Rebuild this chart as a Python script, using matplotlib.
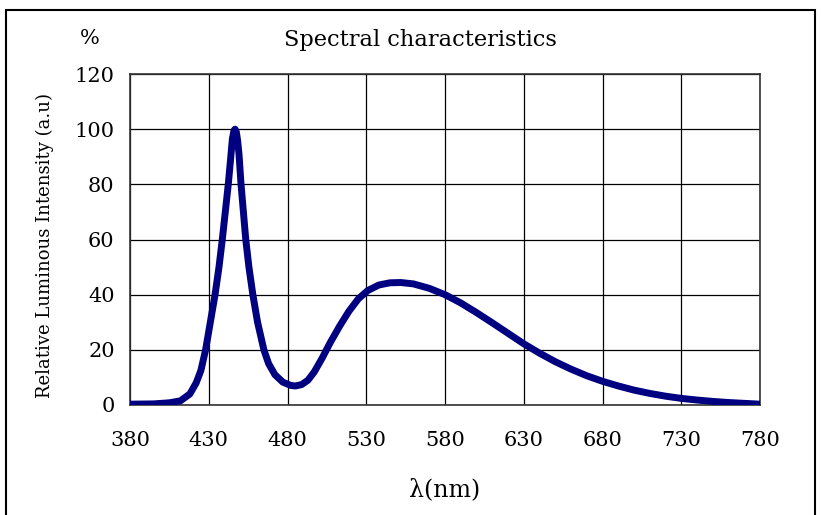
import matplotlib
matplotlib.use("Agg")
import matplotlib.pyplot as plt
from matplotlib.patches import Rectangle

wavelength = [380, 395, 405, 412, 418, 422, 425, 428, 431, 434, 436.5, 438.6, 440.5, 442.4,
              444, 445, 446, 446.7, 447.5, 448.3, 449.2, 450.5, 452, 453.5, 455.5, 458, 461, 465, 468,
              472, 477, 482, 485, 489, 493, 497, 502, 507, 513, 519, 525,
              531, 538, 545, 552, 560, 570, 580, 590, 600, 610, 620, 630, 640, 650, 660,
              670, 680, 690, 700, 710, 720, 730, 740, 750, 760, 770, 780]
intensity = [0.3, 0.4, 0.8, 1.5, 4, 8, 12.5, 20, 30, 40, 50, 60, 70, 80,
             90, 96.5, 99.5, 100, 99, 96, 91, 80, 70, 60, 50, 40, 30, 20, 15,
             11, 8.3, 7.1, 6.9, 7.4, 9, 12, 17, 22.5, 28.5, 34, 38.5,
             41.5, 43.5, 44.3, 44.4, 43.9, 42.3, 40, 37, 33.5, 29.8, 26, 22.2, 18.8, 15.7, 13,
             10.6, 8.6, 6.9, 5.4, 4.2, 3.2, 2.4, 1.8, 1.3, 0.9, 0.6, 0.3]
x_ticks = [380, 430, 480, 530, 580, 630, 680, 730, 780]
y_ticks = [0, 20, 40, 60, 80, 100, 120]

plt.rcParams['font.family'] = ['DejaVu Serif']

W, H = 822, 515
fig = plt.figure(figsize=(W / 100, H / 100), dpi=100)
ax = fig.add_axes([130 / W, (H - 405) / H, 630 / W, 331 / H])

ax.plot(wavelength, intensity, color='#000080', lw=5, solid_capstyle='round',
        solid_joinstyle='round', zorder=3)
ax.set_xlim(380, 780)
ax.set_ylim(0, 120)
ax.set_xticks(x_ticks)
ax.set_yticks(y_ticks)
ax.tick_params(length=0, labelsize=15)
ax.tick_params(axis='x', pad=19)
ax.tick_params(axis='y', pad=11)
ax.grid(True, color='black', lw=0.9)
for s in ax.spines.values():
    s.set_color('#333333')
    s.set_linewidth(1.2)

fig.text(445 / W, 1 - 490 / H, 'λ(nm)', ha='center', va='center', fontsize=17)
fig.text(45 / W, 1 - 246 / H, 'Relative Luminous Intensity (a.u)', ha='center', va='center',
         rotation=90, fontsize=13)
fig.text(420 / W, 1 - 40 / H, 'Spectral characteristics', ha='center', va='center', fontsize=16.2)
fig.text(90 / W, 1 - 38 / H, '%', ha='center', va='center', fontsize=15)

fig.patches.append(Rectangle((6 / W, -0.05), (815 - 6) / W, 1.05 - 10 / H, transform=fig.transFigure,
                             fill=False, edgecolor='black', lw=1.5))

fig.savefig('out.png', dpi=100)
